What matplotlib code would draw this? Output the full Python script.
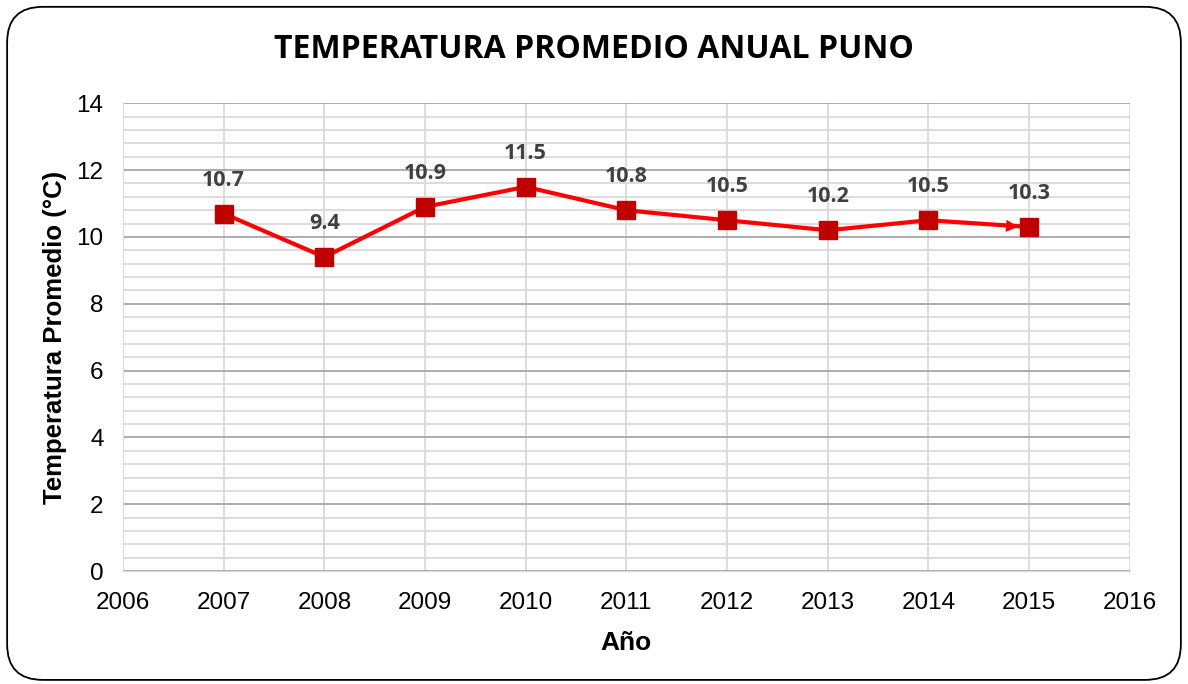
import numpy as np
import matplotlib.pyplot as plt
from matplotlib.patches import FancyBboxPatch
from matplotlib.ticker import MultipleLocator

years = [2007, 2008, 2009, 2010, 2011, 2012, 2013, 2014, 2015]
temps = [10.7, 9.4, 10.9, 11.5, 10.8, 10.5, 10.2, 10.5, 10.3]

fig = plt.figure(figsize=(11.88, 6.84), dpi=100)
ax = fig.add_axes([0.1035, 0.165, 0.8475, 0.684])

# rounded border around the whole chart
border = FancyBboxPatch((0.006, 0.006), 0.988, 0.984, boxstyle="round,pad=0,rounding_size=0.03",
                        transform=fig.transFigure, fill=False, edgecolor='black', linewidth=1.3,
                        mutation_aspect=1188/684)
fig.patches.append(border)

ax.plot(years, temps, color='#FF0000', linewidth=3, marker='s', markersize=12.5,
        markerfacecolor='#C00000', markeredgecolor='#C00000', zorder=3)
# arrow head on the last segment
ax.annotate('', xy=(years[-1] - 0.08, temps[-1]), xytext=(years[-2], temps[-2]),
            arrowprops=dict(arrowstyle='-|>', color='#FF0000', lw=0, mutation_scale=22), zorder=2)

for x, y in zip(years, temps):
    ax.annotate(f'{y}', (x, y), xytext=(0, 24), textcoords='offset points', ha='center', va='center',
                fontsize=15.5, fontweight='bold', color='#404040', family='Open Sans')

ax.set_xlim(2006, 2016)
ax.set_ylim(0, 14)
ax.xaxis.set_major_locator(MultipleLocator(1))
ax.yaxis.set_major_locator(MultipleLocator(2))
ax.yaxis.set_minor_locator(MultipleLocator(0.4))
ax.grid(which='major', axis='y', color='#A6A6A6', linewidth=1.3)
ax.grid(which='minor', axis='y', color='#D9D9D9', linewidth=1.3)
ax.grid(which='major', axis='x', color='#D9D9D9', linewidth=1.3)
ax.set_axisbelow(True)
for s in ax.spines.values():
    s.set_visible(False)
ax.spines['left'].set_visible(True)
ax.spines['left'].set_color('#D9D9D9')
ax.spines['bottom'].set_visible(True)
ax.spines['bottom'].set_color('#D9D9D9')
ax.tick_params(which='both', length=0, labelsize=17.5, labelcolor='black')
ax.tick_params(axis='x', pad=15)
ax.tick_params(axis='y', pad=14)
for lab in ax.get_xticklabels() + ax.get_yticklabels():
    lab.set_family('Liberation Sans')

ax.set_xlabel('Año', fontsize=19, fontweight='bold', family='Liberation Sans', labelpad=12)
ax.set_ylabel('Temperatura Promedio (°C)', fontsize=18.5, fontweight='bold', family='Liberation Sans', labelpad=7)
fig.text(0.5, 0.928, 'TEMPERATURA PROMEDIO ANUAL PUNO', ha='center', va='center',
         fontsize=23, fontweight='bold', family='Open Sans')

fig.savefig('out.png', dpi=100)
